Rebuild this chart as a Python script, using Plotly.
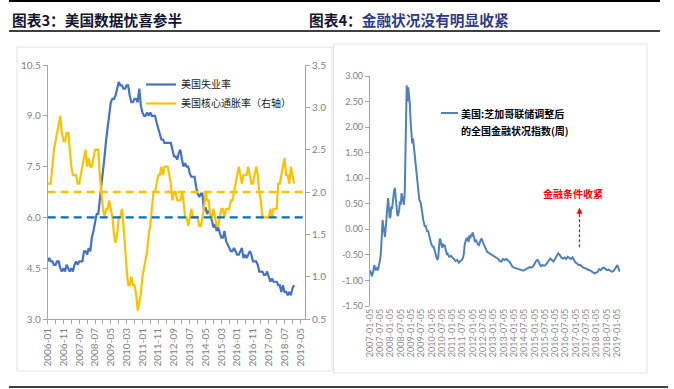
import plotly.graph_objects as go
import pandas as pd

W, H = 674, 389
def fx(x): return x / W
def fy(y): return 1 - y / H

CJK = "Noto Sans CJK SC"
NUM = "Lato, Noto Sans CJK SC"

# ---------------- Left chart data (monthly, 2006-01 .. 2019-01) ----------------
months = pd.date_range("2006-01-01", "2019-01-01", freq="MS")
unemployment = [
    4.7, 4.8, 4.7, 4.7, 4.6, 4.6, 4.7, 4.7, 4.5, 4.4, 4.5, 4.4,
    4.6, 4.5, 4.4, 4.5, 4.4, 4.6, 4.7, 4.6, 4.7, 4.7, 4.7, 5.0,
    5.0, 4.9, 5.1, 5.0, 5.4, 5.6, 5.8, 6.1, 6.1, 6.5, 6.8, 7.3,
    7.8, 8.3, 8.7, 9.0, 9.4, 9.5, 9.5, 9.6, 9.8, 10.0, 9.9, 9.9,
    9.8, 9.8, 9.9, 9.9, 9.6, 9.4, 9.4, 9.5, 9.5, 9.4, 9.8, 9.3,
    9.1, 9.0, 9.0, 9.1, 9.0, 9.1, 9.0, 9.0, 9.0, 8.8, 8.6, 8.5,
    8.3, 8.3, 8.2, 8.2, 8.2, 8.2, 8.2, 8.0, 7.8, 7.8, 7.7, 7.9,
    8.0, 7.7, 7.5, 7.6, 7.5, 7.5, 7.3, 7.2, 7.2, 7.2, 6.9, 6.7,
    6.6, 6.7, 6.7, 6.2, 6.3, 6.1, 6.2, 6.1, 5.9, 5.7, 5.8, 5.6,
    5.7, 5.5, 5.4, 5.4, 5.6, 5.3, 5.2, 5.1, 5.0, 5.0, 5.1, 5.0,
    4.9, 4.9, 5.0, 5.1, 4.8, 4.9, 4.8, 4.9, 5.0, 4.9, 4.7, 4.7,
    4.7, 4.6, 4.4, 4.4, 4.4, 4.3, 4.3, 4.4, 4.2, 4.1, 4.2, 4.1,
    4.1, 4.1, 4.0, 4.0, 3.8, 4.0, 3.8, 3.8, 3.7, 3.8, 3.7, 3.9,
    4.0,
]
core_inflation = [
    2.1, 2.1, 2.1, 2.3, 2.5, 2.6, 2.7, 2.8, 2.9, 2.7, 2.6, 2.6,
    2.7, 2.7, 2.5, 2.3, 2.2, 2.2, 2.2, 2.1, 2.1, 2.2, 2.3, 2.4,
    2.5, 2.3, 2.4, 2.3, 2.3, 2.4, 2.5, 2.5, 2.5, 2.2, 2.0, 1.8,
    1.7, 1.8, 1.8, 1.9, 1.8, 1.7, 1.5, 1.4, 1.5, 1.7, 1.7, 1.8,
    1.6, 1.3, 1.1, 0.9, 0.9, 1.0, 0.9, 0.9, 0.8, 0.6, 0.7, 0.8,
    1.0, 1.1, 1.2, 1.3, 1.5, 1.6, 1.8, 2.0, 2.0, 2.1, 2.2, 2.2,
    2.3, 2.2, 2.3, 2.3, 2.3, 2.2, 2.1, 1.9, 2.0, 2.0, 1.9, 1.9,
    1.9, 2.0, 1.9, 1.7, 1.7, 1.6, 1.7, 1.8, 1.7, 1.7, 1.7, 1.7,
    1.6, 1.6, 1.7, 1.8, 2.0, 1.9, 1.9, 1.7, 1.7, 1.8, 1.7, 1.6,
    1.6, 1.7, 1.8, 1.8, 1.7, 1.8, 1.8, 1.8, 1.9, 1.9, 2.0, 2.1,
    2.2, 2.3, 2.2, 2.1, 2.2, 2.2, 2.2, 2.3, 2.2, 2.1, 2.1, 2.2,
    2.3, 2.2, 2.0, 1.9, 1.7, 1.7, 1.7, 1.7, 1.7, 1.8, 1.7, 1.8,
    1.8, 1.8, 2.1, 2.1, 2.2, 2.3, 2.4, 2.2, 2.2, 2.1, 2.3, 2.2,
    2.1,
]
unemp_ref = 6.0
infl_ref = 2.0
left_names = ["美国失业率", "美国核心通胀率（右轴）"]

# ---------------- Right chart data (ANFCI, weekly-ish readings) ----------------
anfci_dates = [
    "2007-01-05", "2007-01-26", "2007-02-09", "2007-03-02", "2007-03-23", "2007-04-13",
    "2007-05-04", "2007-05-25", "2007-06-15", "2007-07-06", "2007-07-20", "2007-08-03",
    "2007-08-17", "2007-08-31", "2007-09-14", "2007-09-28", "2007-10-12", "2007-10-26",
    "2007-11-09", "2007-11-23", "2007-12-07", "2007-12-21", "2008-01-04", "2008-01-18",
    "2008-02-01", "2008-02-15", "2008-03-07", "2008-03-21", "2008-04-04", "2008-04-18",
    "2008-05-02", "2008-05-16", "2008-06-06", "2008-06-20", "2008-07-04", "2008-07-18",
    "2008-08-01", "2008-08-15", "2008-08-29", "2008-09-12", "2008-09-26", "2008-10-10",
    "2008-10-17", "2008-10-31", "2008-11-14", "2008-11-28", "2008-12-12", "2008-12-26",
    "2009-01-09", "2009-01-23", "2009-02-06", "2009-02-20", "2009-03-06", "2009-03-20",
    "2009-04-03", "2009-04-17", "2009-05-01", "2009-05-15", "2009-05-29", "2009-06-12",
    "2009-06-26", "2009-07-10", "2009-07-24", "2009-08-07", "2009-08-21", "2009-09-04",
    "2009-09-18", "2009-10-02", "2009-10-16", "2009-10-30", "2009-11-13", "2009-11-27",
    "2009-12-11", "2009-12-25", "2010-01-08", "2010-01-22", "2010-02-05", "2010-02-19",
    "2010-03-05", "2010-03-19", "2010-04-02", "2010-04-16", "2010-04-30", "2010-05-14",
    "2010-05-28", "2010-06-11", "2010-06-25", "2010-07-09", "2010-07-23", "2010-08-06",
    "2010-08-20", "2010-09-03", "2010-09-17", "2010-10-01", "2010-10-15", "2010-11-12",
    "2010-12-10", "2011-01-07", "2011-02-04", "2011-03-04", "2011-04-01", "2011-04-29",
    "2011-05-27", "2011-06-24", "2011-07-15", "2011-07-29", "2011-08-12", "2011-08-26",
    "2011-09-09", "2011-09-23", "2011-10-07", "2011-10-21", "2011-11-04", "2011-11-18",
    "2011-12-02", "2011-12-16", "2011-12-30", "2012-01-13", "2012-01-27", "2012-02-10",
    "2012-02-24", "2012-03-09", "2012-03-23", "2012-04-06", "2012-04-20", "2012-05-04",
    "2012-05-18", "2012-06-01", "2012-06-15", "2012-06-29", "2012-07-13", "2012-07-27",
    "2012-08-10", "2012-08-24", "2012-09-14", "2012-10-12", "2012-11-09", "2012-12-07",
    "2013-01-04", "2013-02-01", "2013-03-01", "2013-03-29", "2013-04-26", "2013-05-24",
    "2013-06-21", "2013-07-19", "2013-08-16", "2013-09-13", "2013-10-11", "2013-11-08",
    "2013-12-06", "2014-01-03", "2014-01-31", "2014-02-28", "2014-03-28", "2014-04-25",
    "2014-05-23", "2014-06-20", "2014-07-18", "2014-08-15", "2014-09-12", "2014-10-10",
    "2014-11-07", "2014-12-05", "2015-01-02", "2015-01-30", "2015-02-27", "2015-03-27",
    "2015-04-24", "2015-05-22", "2015-06-19", "2015-07-17", "2015-08-14", "2015-09-11",
    "2015-10-09", "2015-11-06", "2015-12-04", "2016-01-01", "2016-01-29", "2016-02-26",
    "2016-03-25", "2016-04-22", "2016-05-20", "2016-06-17", "2016-07-15", "2016-08-12",
    "2016-09-09", "2016-10-07", "2016-11-04", "2016-12-02", "2016-12-30", "2017-01-27",
    "2017-02-24", "2017-03-24", "2017-04-21", "2017-05-19", "2017-06-16", "2017-07-14",
    "2017-08-11", "2017-09-08", "2017-10-06", "2017-11-03", "2017-12-01", "2017-12-29",
    "2018-01-26", "2018-02-23", "2018-03-23", "2018-04-20", "2018-05-18", "2018-06-15",
    "2018-07-13", "2018-08-10", "2018-09-07", "2018-10-05", "2018-11-02", "2018-11-30",
    "2018-12-28", "2019-01-11", "2019-01-25", "2019-02-08", "2019-02-22",
]
anfci_values = [
    -0.80, -0.86, -0.92, -0.82, -0.70, -0.80,
    -0.76, -0.80, -0.70, -0.58, -0.40, -0.10,
    0.18, 0.05, -0.10, -0.15, 0.05, 0.25,
    0.45, 0.61, 0.40, 0.22, 0.25, 0.45,
    0.40, 0.60, 0.75, 0.81, 0.60, 0.45,
    0.30, 0.26, 0.38, 0.55, 0.48, 0.71,
    0.60, 0.50, 0.48, 0.70, 1.60, 2.40,
    2.82, 2.50, 2.78, 2.60, 2.45, 2.10,
    1.75, 1.68, 1.78, 1.62, 1.50, 1.35,
    1.20, 1.05, 0.85, 0.64, 0.58, 0.55,
    0.50, 0.40, 0.25, 0.18, 0.12, 0.05,
    0.08, 0.00, -0.05, -0.02, -0.10, -0.15,
    -0.22, -0.28, -0.31, -0.35, -0.33, -0.40,
    -0.41, -0.50, -0.56, -0.60, -0.54, -0.35,
    -0.18, -0.22, -0.30, -0.36, -0.28, -0.34,
    -0.30, -0.37, -0.42, -0.50, -0.48, -0.54,
    -0.52, -0.55, -0.57, -0.62, -0.60, -0.65,
    -0.62, -0.60, -0.55, -0.47, -0.30, -0.20,
    -0.18, -0.22, -0.15, -0.25, -0.12, -0.18,
    -0.10, -0.14, -0.06, -0.10, -0.21, -0.25,
    -0.20, -0.24, -0.28, -0.30, -0.31, -0.28,
    -0.22, -0.18, -0.20, -0.25, -0.28, -0.31,
    -0.36, -0.40, -0.44, -0.46, -0.48, -0.50,
    -0.52, -0.55, -0.57, -0.58, -0.62, -0.63,
    -0.58, -0.60, -0.58, -0.60, -0.63, -0.68,
    -0.73, -0.75, -0.76, -0.77, -0.78, -0.78,
    -0.80, -0.81, -0.79, -0.77, -0.76, -0.74,
    -0.75, -0.73, -0.68, -0.62, -0.60, -0.66,
    -0.72, -0.70, -0.71, -0.70, -0.66, -0.60,
    -0.57, -0.60, -0.63, -0.58, -0.52, -0.47,
    -0.50, -0.55, -0.57, -0.55, -0.58, -0.54,
    -0.56, -0.58, -0.55, -0.60, -0.65, -0.67,
    -0.70, -0.70, -0.73, -0.75, -0.76, -0.78,
    -0.79, -0.80, -0.82, -0.84, -0.86, -0.85,
    -0.83, -0.78, -0.80, -0.76, -0.75, -0.78,
    -0.80, -0.79, -0.81, -0.83, -0.82, -0.78,
    -0.72, -0.70, -0.74, -0.80, -0.83,
]
anfci_name_lines = ["美国:芝加哥联储调整后", "的全国金融状况指数(周)"]
anfci_ticks = [-1.5, -1.0, -0.5, 0.0, 0.5, 1.0, 1.5, 2.0, 2.5, 3.0]
anfci_ticktext = ["-1.50", "-1.00", "-0.50", "0.00", "0.50", "1.00", "1.50", "2.00", "2.50", "3.00"]
arrow_date = "2017-03-10"
arrow_from, arrow_to = -0.35, 0.42
note_date, note_value = "2016-11-10", 0.71
note_text = "金融条件收紧"

BLUE = "#4472C4"
GOLD = "#FFC000"
ANFCI_BLUE = "#4F81BD"
GRID_GRAY = "#A6A6A6"
TICK_GRAY = "#7F7F7F"

fig = go.Figure()

fig.add_trace(go.Scatter(
    x=months, y=unemployment, name=left_names[0], mode="lines",
    line=dict(color=BLUE, width=2.2), xaxis="x", yaxis="y",
))
fig.add_trace(go.Scatter(
    x=months, y=core_inflation, name=left_names[1], mode="lines",
    line=dict(color=GOLD, width=2.2), xaxis="x", yaxis="y2",
))
fig.add_trace(go.Scatter(
    x=anfci_dates, y=anfci_values, name="".join(anfci_name_lines), mode="lines",
    line=dict(color=ANFCI_BLUE, width=2), xaxis="x2", yaxis="y3", showlegend=False,
))

axis_font = dict(family=NUM, size=10, color=TICK_GRAY)

left_dom_x = [fx(47.7), fx(305)]
left_dom_y = [fy(319), fy(65)]
right_dom_x = [fx(370), fx(620)]
right_dom_y = [fy(306), fy(76)]
zero_pos = right_dom_y[0] + (0 - (-1.5)) / 4.5 * (right_dom_y[1] - right_dom_y[0])

fig.update_layout(
    width=W, height=H,
    margin=dict(l=0, r=0, t=0, b=0, autoexpand=False),
    paper_bgcolor="white", plot_bgcolor="white",
    showlegend=True,
    xaxis=dict(
        domain=left_dom_x, anchor="y", type="date", automargin=False,
        range=["2006-01-01", "2019-07-31"],
        tick0="2006-01-01", dtick="M10", tickformat="%Y-%m",
        tickangle=-90, tickfont=axis_font,
        showline=True, linecolor=GRID_GRAY, linewidth=1,
        ticks="outside", ticklen=4, tickcolor=GRID_GRAY,
        minor=dict(tick0="2006-01-01", dtick="M5", ticks="outside", ticklen=4, tickcolor=GRID_GRAY),
        showgrid=False, zeroline=False,
    ),
    yaxis=dict(
        domain=left_dom_y, anchor="x", range=[3, 10.5], dtick=1.5, tick0=3, automargin=False,
        tickformat=".1f", tickfont=axis_font,
        showline=True, linecolor=GRID_GRAY, linewidth=1,
        ticks="outside", ticklen=4, tickcolor=GRID_GRAY,
        showgrid=False, zeroline=False,
    ),
    yaxis2=dict(
        overlaying="y", anchor="x", side="right", range=[0.5, 3.5], dtick=0.5, tick0=0.5,
        automargin=False, tickformat=".1f", tickfont=axis_font,
        showline=True, linecolor=GRID_GRAY, linewidth=1,
        ticks="outside", ticklen=4, tickcolor=GRID_GRAY,
        showgrid=False, zeroline=False,
    ),
    xaxis2=dict(
        domain=right_dom_x, anchor="y3", type="date", automargin=False,
        range=["2007-01-05", "2019-02-27"],
        tick0="2007-01-05", dtick="M6", tickformat="%Y-%m-%d",
        tickangle=-90, tickfont=dict(family=NUM, size=9, color="#8C8C8C"),
        showline=False, ticks="", showgrid=False, zeroline=False,
    ),
    xaxis3=dict(
        overlaying="x2", anchor="free", position=zero_pos, type="date", automargin=False,
        range=["2007-01-05", "2019-02-27"],
        tick0="2007-01-05", dtick="M6", showticklabels=False,
        showline=True, linecolor=GRID_GRAY, linewidth=1.2,
        ticks="outside", ticklen=4, tickcolor=GRID_GRAY,
        showgrid=False, zeroline=False,
    ),
    yaxis3=dict(
        domain=right_dom_y, anchor="x2", range=[-1.5, 3.0], automargin=False,
        tickvals=anfci_ticks, ticktext=anfci_ticktext,
        tickfont=dict(family=NUM, size=9, color=TICK_GRAY),
        showline=True, linecolor=GRID_GRAY, linewidth=1.2,
        ticks="outside", ticklen=4, tickcolor=GRID_GRAY,
        showgrid=False, zeroline=False,
    ),
    legend=dict(
        x=fx(141), y=fy(70), xanchor="left", yanchor="top",
        bgcolor="rgba(0,0,0,0)", borderwidth=0,
        font=dict(family=CJK, size=10, color="#1a1a1a"),
        itemwidth=30, tracegroupgap=0,
    ),
)

shapes = []
# Header rules
shapes.append(dict(type="line", xref="paper", yref="paper", x0=fx(9), x1=fx(660), y0=fy(1), y1=fy(1),
                   line=dict(color="black", width=2)))
shapes.append(dict(type="line", xref="paper", yref="paper", x0=fx(9), x1=fx(660), y0=fy(31), y1=fy(31),
                   line=dict(color="black", width=1.5)))
shapes.append(dict(type="line", xref="paper", yref="paper", x0=fx(9), x1=fx(668), y0=fy(387), y1=fy(387),
                   line=dict(color="black", width=1.5)))
# Panel frames
shapes.append(dict(type="rect", xref="paper", yref="paper", x0=fx(17), x1=fx(332), y0=fy(371), y1=fy(47),
                   line=dict(color="#E3E3E3", width=1), layer="below"))
shapes.append(dict(type="rect", xref="paper", yref="paper", x0=fx(333.5), x1=fx(647), y0=fy(373), y1=fy(44),
                   line=dict(color="#E3E3E3", width=1), layer="below"))
# Reference lines
shapes.append(dict(type="line", xref="x domain", yref="y", x0=0, x1=1, y0=unemp_ref, y1=unemp_ref,
                   line=dict(color="#0070C0", width=2.4, dash="8px,5px")))
shapes.append(dict(type="line", xref="x domain", yref="y2", x0=0, x1=1, y0=infl_ref, y1=infl_ref,
                   line=dict(color=GOLD, width=2.4, dash="8px,5px")))
# Red dashed arrow shaft
shapes.append(dict(type="line", xref="x2", yref="y3", x0=arrow_date, x1=arrow_date,
                   y0=arrow_from, y1=arrow_to, line=dict(color="#FF0000", width=1.2, dash="3px,2px")))
# Right-chart legend sample line
shapes.append(dict(type="line", xref="paper", yref="paper", x0=fx(441), x1=fx(458), y0=fy(113), y1=fy(113),
                   line=dict(color=ANFCI_BLUE, width=2)))
fig.update_layout(shapes=shapes)

legend_font = dict(family=CJK, size=10, color="#000000")
annotations = [
    dict(xref="paper", yref="paper", x=fx(10), y=fy(20), xanchor="left", yanchor="middle",
         text="<b>图表3：美国数据忧喜参半</b>", showarrow=False,
         font=dict(family=CJK, size=14.7, color="#141430")),
    dict(xref="paper", yref="paper", x=fx(307), y=fy(20), xanchor="left", yanchor="middle",
         text="<b>图表4：<span style='color:#2E3A8C'>金融状况没有明显收紧</span></b>", showarrow=False,
         font=dict(family=CJK, size=14.7, color="#141430")),
    dict(xref="paper", yref="paper", x=fx(459), y=fy(113), xanchor="left", yanchor="middle",
         text="<b>" + anfci_name_lines[0] + "</b>", showarrow=False, font=legend_font),
    dict(xref="paper", yref="paper", x=fx(459), y=fy(130), xanchor="left", yanchor="middle",
         text="<b>" + anfci_name_lines[1] + "</b>", showarrow=False, font=legend_font),
    dict(xref="x2", yref="y3", x=note_date, y=note_value, text="<b>" + note_text + "</b>",
         showarrow=False, font=dict(family=CJK, size=10, color="#FF0000")),
    dict(xref="x2", yref="y3", x=arrow_date, y=arrow_to, ax=0, ay=9, text="",
         showarrow=True, arrowhead=2, arrowsize=1, arrowwidth=1.2, arrowcolor="#FF0000"),
]
fig.update_layout(annotations=annotations)

fig.write_html(
    "out.html",
    config={"displayModeBar": False},
    post_script="document.body.style.margin='0';document.body.style.padding='0';",
)
